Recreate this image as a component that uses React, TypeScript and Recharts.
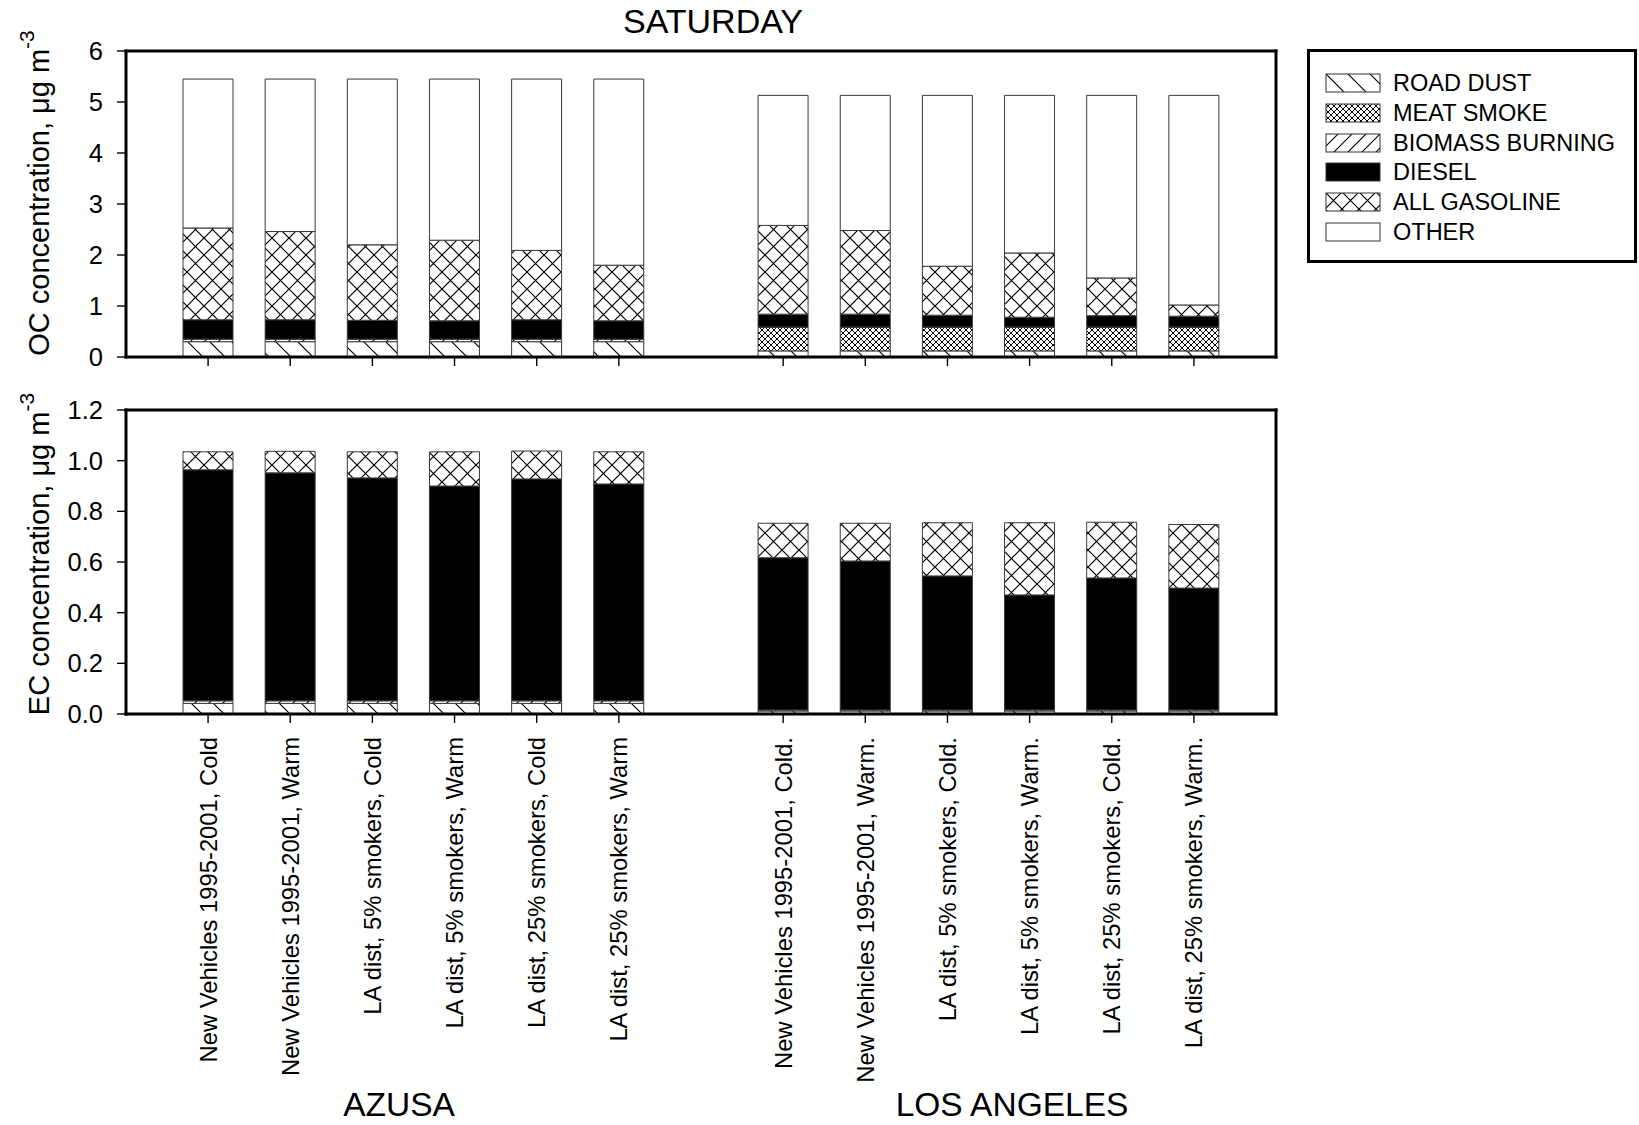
import React from 'react';
import { BarChart, Bar, XAxis, YAxis, CartesianGrid } from 'recharts';

const FONT = '"Liberation Sans", Arial, Helvetica, sans-serif';

const TITLE = 'SATURDAY';
const SITES = ['AZUSA', 'LOS ANGELES'];

const AZUSA_CASES = [
  'New Vehicles 1995-2001, Cold',
  'New Vehicles 1995-2001, Warm',
  'LA dist, 5% smokers, Cold',
  'LA dist, 5% smokers, Warm',
  'LA dist, 25% smokers, Cold',
  'LA dist, 25% smokers, Warm',
];
const LA_CASES = [
  'New Vehicles 1995-2001, Cold.',
  'New Vehicles 1995-2001, Warm.',
  'LA dist, 5% smokers, Cold.',
  'LA dist, 5% smokers, Warm.',
  'LA dist, 25% smokers, Cold.',
  'LA dist, 25% smokers, Warm.',
];

const SOURCES = ['ROAD DUST', 'MEAT SMOKE', 'BIOMASS BURNING', 'DIESEL', 'ALL GASOLINE', 'OTHER'];
const KEYS = ['roadDust', 'meatSmoke', 'biomass', 'diesel', 'gasoline', 'other'];
const FILLS = ['url(#pRoad)', 'url(#pMeat)', 'url(#pBiomass)', '#000', 'url(#pGas)', '#fff'];

// OC segments, ug/m3 (6 Azusa cases then 6 Los Angeles cases)
const OC_ROAD_DUST = [0.3, 0.3, 0.3, 0.3, 0.3, 0.3, 0.12, 0.12, 0.12, 0.12, 0.12, 0.12];
const OC_MEAT_SMOKE = [0, 0, 0, 0, 0, 0, 0.46, 0.46, 0.46, 0.46, 0.46, 0.46];
const OC_BIOMASS = [0.05, 0.05, 0.05, 0.05, 0.05, 0.05, 0.01, 0.01, 0.01, 0.01, 0.01, 0.01];
const OC_DIESEL = [0.38, 0.38, 0.37, 0.36, 0.38, 0.36, 0.25, 0.25, 0.23, 0.19, 0.22, 0.21];
const OC_GASOLINE = [1.8, 1.73, 1.48, 1.58, 1.36, 1.09, 1.74, 1.64, 0.96, 1.26, 0.74, 0.22];
const OC_OTHER = [2.92, 2.99, 3.25, 3.16, 3.36, 3.65, 2.55, 2.65, 3.35, 3.09, 3.58, 4.11];

// EC segments, ug/m3
const EC_ROAD_DUST = [0.042, 0.042, 0.042, 0.042, 0.042, 0.042, 0.012, 0.012, 0.012, 0.012, 0.012, 0.012];
const EC_MEAT_SMOKE = [0, 0, 0, 0, 0, 0, 0, 0, 0, 0, 0, 0];
const EC_BIOMASS = [0.01, 0.01, 0.01, 0.01, 0.01, 0.01, 0.004, 0.004, 0.004, 0.004, 0.004, 0.004];
const EC_DIESEL = [0.912, 0.9, 0.88, 0.848, 0.876, 0.856, 0.601, 0.588, 0.529, 0.454, 0.521, 0.481];
const EC_GASOLINE = [0.071, 0.085, 0.103, 0.135, 0.11, 0.127, 0.136, 0.149, 0.21, 0.285, 0.22, 0.251];
const EC_OTHER = [0, 0, 0, 0, 0, 0, 0, 0, 0, 0, 0, 0];

const OC_TICKS = [0, 1, 2, 3, 4, 5, 6];
const EC_TICKS = [0, 0.2, 0.4, 0.6, 0.8, 1.0, 1.2];

const GAP = ' ';

function buildRows(series: number[][]) {
  const names = [...AZUSA_CASES, GAP, ...LA_CASES];
  return names.map((name, i) => {
    const row: any = { name };
    if (name === GAP) return row;
    const j = i < AZUSA_CASES.length ? i : i - 1;
    KEYS.forEach((k, s) => {
      row[k] = series[s][j];
    });
    return row;
  });
}

const ocRows = buildRows([OC_ROAD_DUST, OC_MEAT_SMOKE, OC_BIOMASS, OC_DIESEL, OC_GASOLINE, OC_OTHER]);
const ecRows = buildRows([EC_ROAD_DUST, EC_MEAT_SMOKE, EC_BIOMASS, EC_DIESEL, EC_GASOLINE, EC_OTHER]);

const FRAME = { stroke: '#000', strokeWidth: 3, strokeLinecap: 'square' as const };
const TICK_FONT = 23.8;
const Y_TICK_FONT = 25.5;

function CaseTick(props: any) {
  const { x, y, payload, showLabel } = props;
  const name = String(payload?.value ?? '');
  if (!name.trim()) return <g />;
  const axisY = y - 9;
  const ly = axisY + 23;
  return (
    <g>
      <line x1={x} x2={x} y1={axisY} y2={axisY + 9} stroke="#000" strokeWidth={1.4} />
      {showLabel && (
        <text
          x={x}
          y={ly}
          transform={`rotate(-90, ${x}, ${ly})`}
          textAnchor="end"
          dy="0.36em"
          fontSize={TICK_FONT}
          fontFamily={FONT}
          fill="#000"
        >
          {name}
        </text>
      )}
    </g>
  );
}

function AxisTitle({ cx, cy, text }: { cx: number; cy: number; text: string }) {
  return (
    <text
      x={cx}
      y={cy}
      transform={`rotate(-90, ${cx}, ${cy})`}
      textAnchor="middle"
      fontSize={29}
      fontFamily={FONT}
      fill="#000"
    >
      {text}
      <tspan dy={-15} fontSize={21}>-3</tspan>
    </text>
  );
}

function Patterns() {
  return (
    <svg width={0} height={0} style={{ position: 'absolute' }}>
      <defs>
        <pattern id="pRoad" patternUnits="userSpaceOnUse" width={22} height={22}>
          <rect width={22} height={22} fill="#fff" />
          <path d="M0,0 L22,22 M-1,21 L1,23 M21,-1 L23,1" stroke="#000" strokeWidth={1.2} />
        </pattern>
        <pattern id="pMeat" patternUnits="userSpaceOnUse" width={6} height={6}>
          <rect width={6} height={6} fill="#fff" />
          <path d="M0,0 L6,6 M6,0 L0,6" stroke="#000" strokeWidth={1} />
        </pattern>
        <pattern id="pBiomass" patternUnits="userSpaceOnUse" width={14} height={14}>
          <rect width={14} height={14} fill="#fff" />
          <path d="M0,14 L14,0 M-1,1 L1,-1 M13,15 L15,13" stroke="#000" strokeWidth={1.1} />
        </pattern>
        <pattern id="pGas" patternUnits="userSpaceOnUse" width={17} height={17}>
          <rect width={17} height={17} fill="#fff" />
          <path d="M0,0 L17,17 M17,0 L0,17" stroke="#000" strokeWidth={1.2} />
        </pattern>
      </defs>
    </svg>
  );
}

function Panel({
  rows,
  height,
  top,
  bottom,
  axisHeight,
  domainMax,
  ticks,
  fmt,
  title,
  titleY,
  showLabels,
}: any) {
  return (
    <BarChart
      width={1639}
      height={height}
      data={rows}
      margin={{ top, right: 363, bottom, left: 46 }}
      barSize={50}
    >
      {/* top and right edges of the box frame */}
      <CartesianGrid
        stroke="#000"
        strokeWidth={3}
        strokeLinecap="square"
        horizontalCoordinatesGenerator={({ offset }: any) => [offset.top]}
        verticalCoordinatesGenerator={({ offset }: any) => [offset.left + offset.width]}
      />
      <XAxis
        dataKey="name"
        type="category"
        interval={0}
        padding={{ left: 41, right: 41 }}
        axisLine={FRAME}
        tickLine={false}
        tickSize={9}
        tickMargin={0}
        height={axisHeight}
        tick={(p: any) => <CaseTick {...p} showLabel={showLabels} />}
      />
      <YAxis
        type="number"
        domain={[0, domainMax]}
        ticks={ticks}
        interval={0}
        width={80}
        axisLine={FRAME}
        tickLine={{ stroke: '#000', strokeWidth: 1.4 }}
        tickSize={9}
        tickMargin={14}
        tickFormatter={fmt}
        tick={{ fill: '#000', fontSize: Y_TICK_FONT, fontFamily: FONT }}
        label={{ content: () => <AxisTitle cx={49} cy={titleY} text={title} /> }}
      />
      {KEYS.map((k, i) => (
        <Bar
          key={k}
          dataKey={k}
          name={SOURCES[i]}
          stackId="src"
          fill={FILLS[i]}
          stroke="#3a3a3a"
          strokeWidth={1}
          isAnimationActive={false}
        />
      ))}
    </BarChart>
  );
}

function LegendBox() {
  return (
    <div
      style={{
        position: 'absolute',
        left: 1307,
        top: 49,
        width: 330,
        height: 214,
        boxSizing: 'border-box',
        border: '3px solid #000',
        background: '#fff',
      }}
    >
      {SOURCES.map((s, i) => (
        <div
          key={s}
          style={{
            position: 'absolute',
            left: 15,
            top: 31 + i * 29.8 - 12,
            height: 24,
            display: 'flex',
            alignItems: 'center',
          }}
        >
          <svg width={56} height={20} style={{ display: 'block' }}>
            <rect x={1} y={1} width={54} height={18} fill={FILLS[i]} stroke="#333" strokeWidth={1} />
          </svg>
          <span
            style={{
              marginLeft: 12,
              fontFamily: FONT,
              fontSize: 23.5,
              lineHeight: '24px',
              color: '#000',
              whiteSpace: 'nowrap',
            }}
          >
            {s}
          </span>
        </div>
      ))}
    </div>
  );
}

function Caption({ text, cx, cy, size }: { text: string; cx: number; cy: number; size: number }) {
  return (
    <div
      style={{
        position: 'absolute',
        left: cx - 300,
        width: 600,
        top: cy - 0.3885 * size,
        textAlign: 'center',
        fontFamily: FONT,
        fontSize: size,
        lineHeight: 0.8,
        color: '#000',
      }}
    >
      {text}
    </div>
  );
}

export default function App() {
  return (
    <div
      style={{
        position: 'absolute',
        left: 0,
        top: 0,
        width: 1639,
        height: 1125,
        background: '#fff',
        overflow: 'hidden',
      }}
    >
      <Patterns />
      <Caption text={TITLE} cx={713} cy={21} size={34} />
      <div style={{ position: 'absolute', left: 0, top: 0 }}>
        <Panel
          rows={ocRows}
          height={380}
          top={51}
          bottom={8}
          axisHeight={15}
          domainMax={6}
          ticks={OC_TICKS}
          fmt={(v: number) => String(v)}
          title="OC concentration, μg m"
          titleY={193}
          showLabels={false}
        />
      </div>
      <div style={{ position: 'absolute', left: 0, top: 380 }}>
        <Panel
          rows={ecRows}
          height={745}
          top={30}
          bottom={51}
          axisHeight={360}
          domainMax={1.2}
          ticks={EC_TICKS}
          fmt={(v: number) => v.toFixed(1)}
          title="EC concentration, μg m"
          titleY={174}
          showLabels={true}
        />
      </div>
      <LegendBox />
      <Caption text={SITES[0]} cx={399} cy={1105} size={33.5} />
      <Caption text={SITES[1]} cx={1012} cy={1105} size={33.5} />
    </div>
  );
}
